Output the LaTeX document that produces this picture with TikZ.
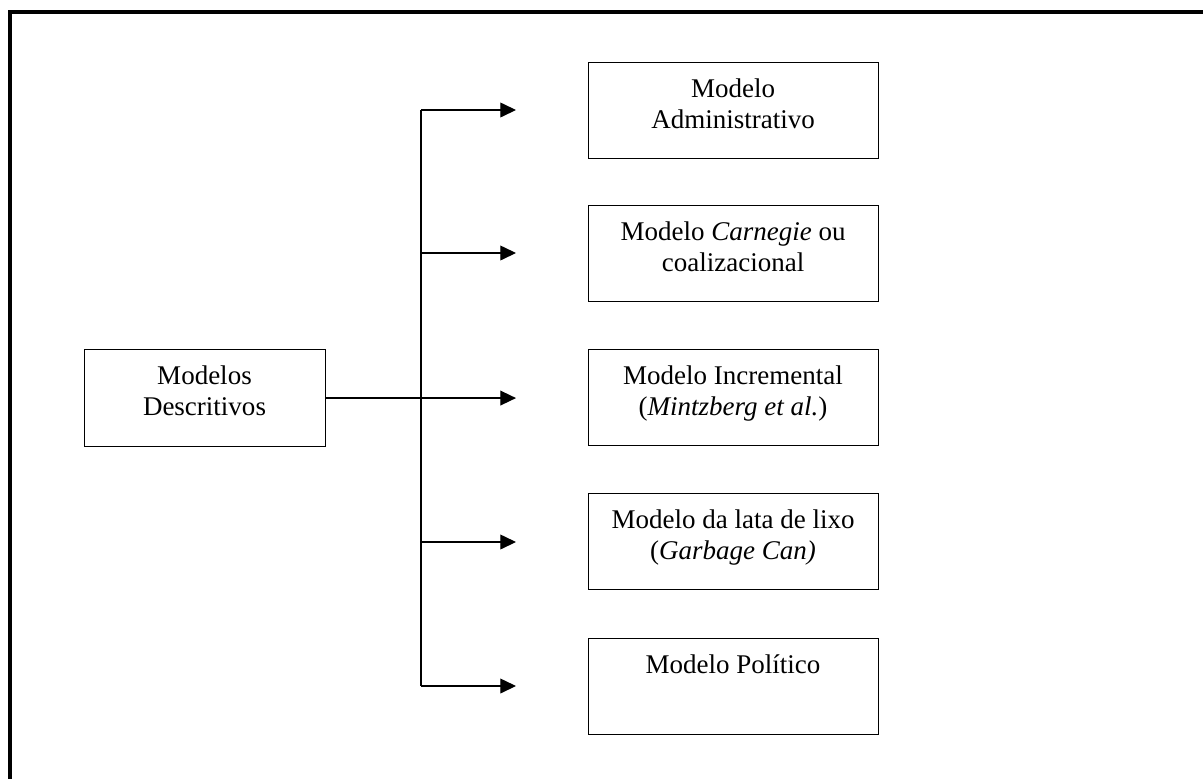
\documentclass[tikz,border=0pt]{standalone}
\usepackage{fontspec}
\setmainfont{Liberation Serif}
\usetikzlibrary{arrows.meta}
\begin{document}
\begin{tikzpicture}[x=0.4444pt,y=-0.4444pt,
  box/.style={draw, line width=0.5pt, minimum width=128.9pt, minimum height=42.7pt,
              anchor=north west, inner sep=0},
  lbl/.style={anchor=north, align=center, inner sep=0,
              font=\fontsize{12}{13.8}\selectfont},
  link/.style={line width=0.55pt},
  arr/.style={link, -{Triangle[length=7pt,width=6.6pt]}}]
\useasboundingbox (0,0) rectangle (1203,778);
\clip (0,0) rectangle (1203,778);
% outer frame
\draw[line width=1.8pt] (10,12) rectangle (1230,800);

% source box
\node[box, minimum width=107.1pt, minimum height=43.1pt] (src) at (84,349) {};
\node[lbl] (srct) at (204.5,362.3) {\strut Modelos\\Descritivos};

% target boxes
\node[box] (b1) at (588,62)  {};
\node[box] (b2) at (588,205) {};
\node[box] (b3) at (588,349) {};
\node[box] (b4) at (588,493) {};
\node[box] (b5) at (588,638) {};

\node[lbl] (l1) at (733,75.3)  {\strut Modelo\\Administrativo};
\node[lbl] (l2) at (733,218.3) {\strut Modelo \textit{Carnegie} ou\\coalizacional};
\node[lbl] (l3) at (733,362.3) {\strut Modelo Incremental\\(\textit{Mintzberg et al.})};
\node[lbl] (l4) at (733,506.3) {\strut Modelo da lata de lixo\\(\textit{Garbage Can)}};
\node[lbl] (l5) at (733,651.3) {\strut Modelo Político};

% branch points on the trunk and arrow ends
\coordinate (t1) at (421,110);
\coordinate (t2) at (421,253);
\coordinate (t5) at (421,686);
\coordinate (t4) at (421,542);
\coordinate (a1) at (516,110);
\coordinate (a2) at (516,253);
\coordinate (a3) at (516,|-src.east);
\coordinate (a4) at (516,542);
\coordinate (a5) at (516,686);

\draw[link] (t1) -- (t5);
\draw[arr] (src.east) -- (a3);
\draw[arr] (t1) -- (a1);
\draw[arr] (t2) -- (a2);
\draw[arr] (t4) -- (a4);
\draw[arr] (t5) -- (a5);
\end{tikzpicture}
\end{document}
